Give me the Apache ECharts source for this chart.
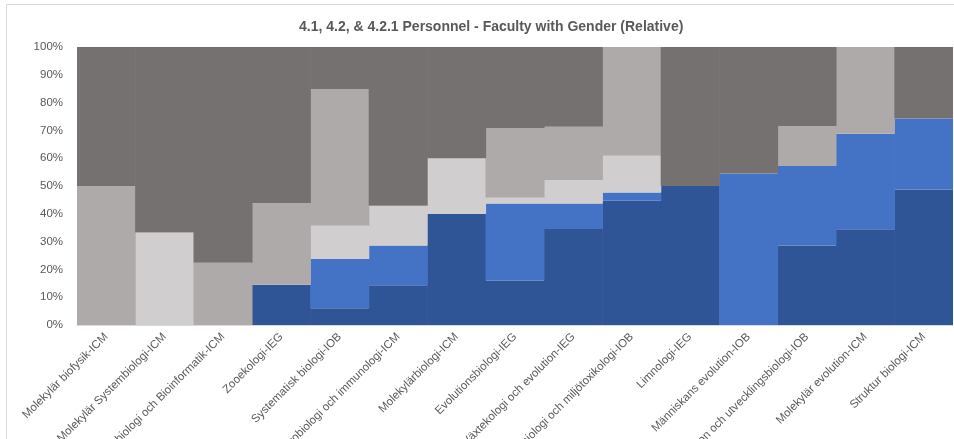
<!DOCTYPE html>
<html>
<head>
<meta charset="utf-8">
<script src="https://cdn.jsdelivr.net/npm/echarts@6/dist/echarts.min.js"></script>
<style>
  html, body { margin: 0; padding: 0; background: #ffffff; }
  #chart { width: 954px; height: 439px; }
</style>
</head>
<body>
<div id="chart"></div>
<script>
// Units (categories along the x axis)
const categories = [
  'Molekylär biofysik-ICM',
  'Molekylär Systembiologi-ICM',
  'Beräkningsbiologi och Bioinformatik-ICM',
  'Zooekologi-IEG',
  'Systematisk biologi-IOB',
  'Mikrobiologi och immunologi-ICM',
  'Molekylärbiologi-ICM',
  'Evolutionsbiologi-IEG',
  'Växtekologi och evolution-IEG',
  'Fysiologi och miljötoxikologi-IOB',
  'Limnologi-IEG',
  'Människans evolution-IOB',
  'Evolution och utvecklingsbiologi-IOB',
  'Molekylär evolution-ICM',
  'Struktur biologi-ICM'
];

// Share of faculty per group, percent of each unit (stacked bottom to top)
const seriesNames = ['Female A', 'Female B', 'Male A', 'Male B', 'Male C'];
const femaleA = [0, 0, 0, 14.5, 6.0, 14.3, 40, 15.9, 34.5, 44.7, 50, 0, 28.6, 34.4, 48.7];
const femaleB = [0, 0, 0, 0, 17.7, 14.3, 0, 27.8, 9.2, 3.0, 0, 54.5, 28.6, 34.4, 25.6];
const maleA   = [0, 33.3, 0, 0, 12.0, 14.3, 20, 2.1, 8.4, 13.2, 0, 0, 0, 0, 0];
const maleB   = [50, 0, 22.4, 29.3, 49.2, 0, 0, 25.1, 19.2, 39.1, 0, 0, 14.3, 31.2, 0];
const maleC   = [50, 66.7, 77.6, 56.2, 15.1, 57.1, 40, 29.1, 28.7, 0, 50, 45.5, 28.5, 0, 25.7];

// Y axis ticks
const yTicks = [0, 10, 20, 30, 40, 50, 60, 70, 80, 90, 100];

const seriesData = [femaleA, femaleB, maleA, maleB, maleC];
const seriesColors = ['#2F5597', '#4472C4', '#D0CECE', '#AEAAAA', '#767171'];

const chart = echarts.init(document.getElementById('chart'));

const option = {
  backgroundColor: '#ffffff',
  animation: false,
  title: {
    text: '4.1, 4.2, & 4.2.1 Personnel - Faculty with Gender (Relative)',
    left: 294,
    top: 15,
    textStyle: {
      fontFamily: 'Liberation Sans',
      fontSize: 14,
      fontWeight: 'bold',
      color: '#595959'
    }
  },
  graphic: [{
    type: 'rect',
    z: -10,
    shape: { x: 6.5, y: 4.5, width: 960, height: 460 },
    style: { fill: 'none', stroke: '#d9d9d9', lineWidth: 1 }
  }],
  grid: {
    left: 77, right: 1, top: 47, bottom: 114,
    containLabel: false,
    outerBoundsMode: 'none'
  },
  xAxis: {
    type: 'category',
    data: categories,
    axisTick: { show: false },
    axisLine: { lineStyle: { color: '#d9d9d9' } },
    axisLabel: {
      interval: 0,
      rotate: 45,
      margin: 10,
      fontFamily: 'Liberation Sans',
      fontSize: 11.5,
      color: '#595959'
    }
  },
  yAxis: {
    type: 'value',
    min: yTicks[0],
    max: yTicks[yTicks.length - 1],
    interval: yTicks[1] - yTicks[0],
    axisLine: { show: false },
    axisTick: { show: false },
    splitLine: { lineStyle: { color: '#d9d9d9' } },
    axisLabel: {
      formatter: '{value}%',
      margin: 14,
      fontFamily: 'Liberation Sans',
      fontSize: 11.5,
      color: '#595959'
    }
  },
  // zero-share segments are left out so they draw nothing
  series: seriesData.map((d, i) => ({
    name: seriesNames[i],
    type: 'bar',
    stack: 'share',
    barWidth: 59,
    data: d.map(v => (v === 0 ? '-' : v)),
    itemStyle: { color: seriesColors[i] }
  }))
};

chart.setOption(option);
</script>
</body>
</html>
